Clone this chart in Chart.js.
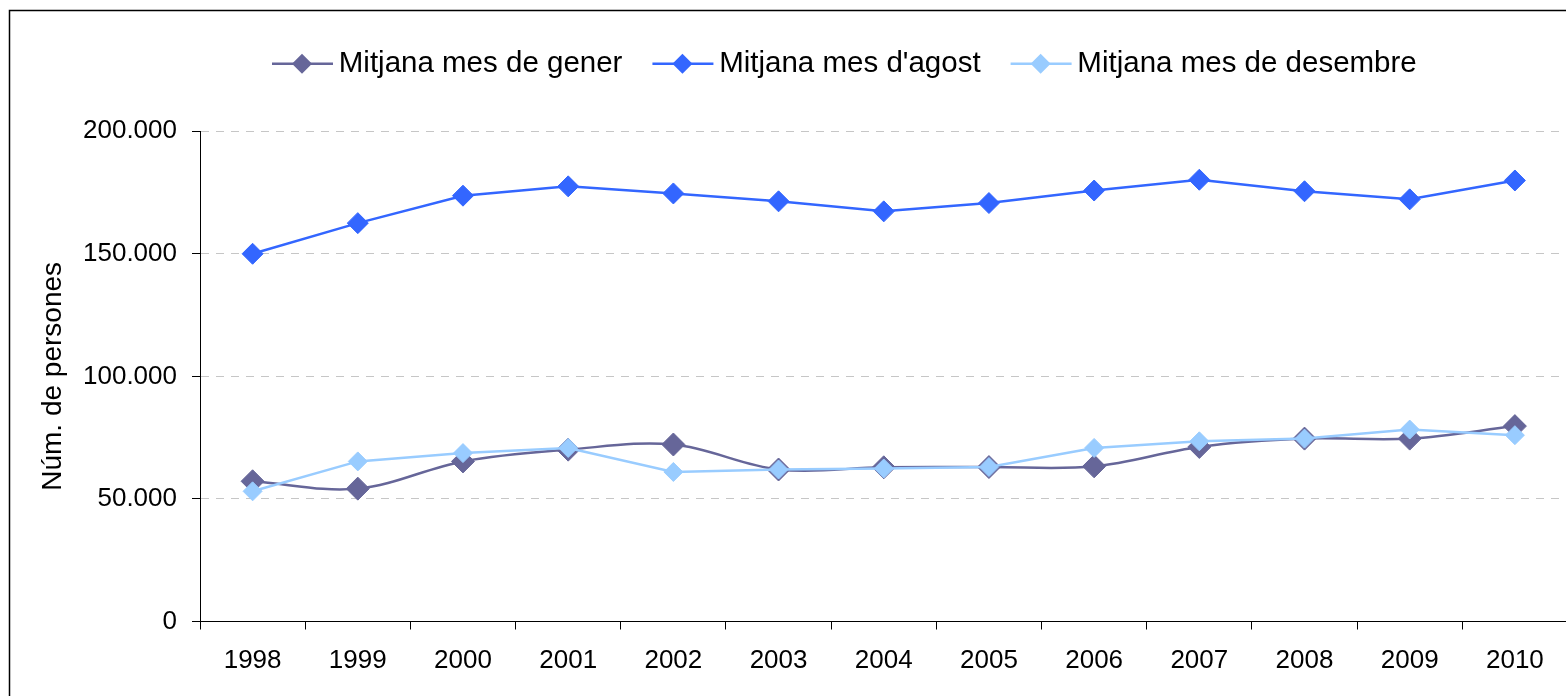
<!DOCTYPE html>
<html>
<head>
<meta charset="utf-8">
<script src="https://cdn.jsdelivr.net/npm/chart.js@4.4.1/dist/chart.umd.min.js"></script>
<style>
  html, body { margin: 0; padding: 0; background: #fff; overflow: hidden; }
  #wrap { position: relative; width: 1580px; height: 696px; }
</style>
</head>
<body>
<div id="wrap"><canvas id="grafic"></canvas></div>
<script>
// dades llegides del gràfic
const anys = ['1998', '1999', '2000', '2001', '2002', '2003', '2004', '2005', '2006', '2007', '2008', '2009', '2010'];
const gener = [57200, 54200, 65300, 70100, 72200, 62000, 62900, 63000, 63300, 71200, 74600, 74600, 79700];
const agost = [150000, 162500, 173700, 177500, 174600, 171400, 167300, 170700, 175800, 180200, 175500, 172200, 179900];
const desembre = [53100, 65300, 68700, 70800, 61000, 62000, 62400, 63000, 70800, 73500, 74600, 78300, 76000];
const ticksY = [0, 50000, 100000, 150000, 200000];

const FONT = 'Liberation Sans, Arial, sans-serif';

// separador de milers amb punt
function milers(v) {
  return String(v).replace(/\B(?=(\d{3})+(?!\d))/g, '.');
}

// marc exterior
const marc = {
  id: 'marc',
  afterDraw(chart) {
    const ctx = chart.ctx;
    ctx.save();
    ctx.strokeStyle = '#000';
    ctx.lineWidth = 1.5;
    ctx.strokeRect(9.5, 10.5, 3000, 3000);
    ctx.restore();
  }
};

// llegenda: més espai a sota, desplaça la fila i dibuixa línia + rombe
const llegenda = {
  id: 'llegenda',
  afterInit(chart) {
    const lg = chart.legend;
    if (!lg) return;
    const fit = lg.fit;
    lg.fit = function () {
      fit.call(this);
      this.height += 42.7;
    };
  },
  afterLayout(chart) {
    const lg = chart.legend;
    if (!lg || !lg.lineWidths) return;
    const pad = lg.options.labels.padding;
    const start = (lg.left + pad + lg.right - lg.lineWidths[0]) / 2;
    const shift = 272 - start;
    lg.left += shift;
    lg.right += shift;
  },
  afterDraw(chart) {
    const lg = chart.legend;
    const ctx = chart.ctx;
    lg.legendHitBoxes.forEach((hb, i) => {
      const item = lg.legendItems[i];
      const ds = chart.data.datasets[item.datasetIndex];
      const y = hb.top + hb.height / 2;
      const cx = hb.left + 30;
      ctx.save();
      ctx.strokeStyle = ds.borderColor;
      ctx.lineWidth = 2.5;
      ctx.beginPath();
      ctx.moveTo(hb.left, y);
      ctx.lineTo(hb.left + 61, y);
      ctx.stroke();
      ctx.fillStyle = ds.backgroundColor;
      ctx.beginPath();
      ctx.moveTo(cx - 10, y);
      ctx.lineTo(cx, y - 10);
      ctx.lineTo(cx + 10, y);
      ctx.lineTo(cx, y + 10);
      ctx.closePath();
      ctx.fill();
      ctx.restore();
    });
  }
};

const ctx = document.getElementById('grafic').getContext('2d');

new Chart(ctx, {
  type: 'line',
  data: {
    labels: anys,
    datasets: [
      {
        label: 'Mitjana mes de gener',
        data: gener,
        borderColor: '#666699',
        backgroundColor: '#666699',
        borderWidth: 2.5,
        tension: 0.35,
        pointStyle: 'rectRot',
        pointRadius: 11.5,
        pointBorderWidth: 1,
        order: 3
      },
      {
        label: "Mitjana mes d'agost",
        data: agost,
        borderColor: '#3366FF',
        backgroundColor: '#3366FF',
        borderWidth: 2.5,
        tension: 0,
        pointStyle: 'rectRot',
        pointRadius: 10.5,
        pointBorderWidth: 1,
        order: 2
      },
      {
        label: 'Mitjana mes de desembre',
        data: desembre,
        borderColor: '#99CCFF',
        backgroundColor: '#99CCFF',
        borderWidth: 2.5,
        tension: 0,
        pointStyle: 'rectRot',
        pointRadius: 9.5,
        pointBorderWidth: 1,
        order: 1
      }
    ]
  },
  options: {
    responsive: true,
    maintainAspectRatio: false,
    animation: false,
    layout: { padding: { top: 19, right: 9, bottom: 0, left: 0 } },
    plugins: {
      tooltip: { enabled: false },
      legend: {
        position: 'top',
        align: 'center',
        labels: {
          boxWidth: 52,
          boxHeight: 12,
          padding: 30,
          color: '#000',
          font: { family: FONT, size: 29.5 },
          sort: (a, b) => a.datasetIndex - b.datasetIndex,
          generateLabels: function (chart) {
            return Chart.defaults.plugins.legend.labels.generateLabels(chart).map(l => {
              l.fillStyle = 'rgba(0,0,0,0)';
              l.strokeStyle = 'rgba(0,0,0,0)';
              l.lineWidth = 0;
              return l;
            });
          }
        }
      }
    },
    scales: {
      x: {
        offset: true,
        grid: {
          offset: true,
          drawOnChartArea: false,
          drawTicks: true,
          tickLength: 8,
          tickColor: '#000',
          color: '#000'
        },
        border: { color: '#000', width: 1 },
        ticks: {
          color: '#000',
          font: { family: FONT, size: 26 },
          padding: 16,
          maxRotation: 0,
          autoSkip: false
        },
        afterFit: s => { s.height = 74.5; }
      },
      y: {
        min: ticksY[0],
        max: ticksY[ticksY.length - 1],
        afterBuildTicks: s => { s.ticks = ticksY.map(v => ({ value: v })); },
        ticks: {
          color: '#000',
          font: { family: FONT, size: 26 },
          padding: 15,
          callback: v => milers(v)
        },
        grid: {
          color: c => (c.tick && c.tick.value === 0) ? 'rgba(0,0,0,0)' : '#c6c6c6',
          lineWidth: 1,
          tickLength: 8,
          tickColor: '#000',
          tickBorderDash: []
        },
        border: { color: '#000', width: 1, dash: [8, 7] },
        title: {
          display: true,
          text: 'Núm. de persones',
          color: '#000',
          font: { family: FONT, size: 28 },
          padding: { top: 36, bottom: 0 }
        },
        afterFit: s => { s.width = 200; }
      }
    }
  },
  plugins: [marc, llegenda]
});
</script>
</body>
</html>
